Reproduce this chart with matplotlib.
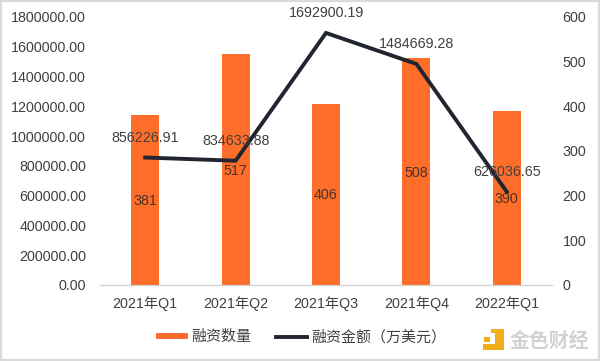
#Financing count and amount by quarter, bars + line with two y axes
import matplotlib
matplotlib.use("Agg")
import matplotlib.pyplot as plt
from matplotlib.patches import Rectangle

plt.rcParams['font.family'] = ['Liberation Sans', 'Noto Sans CJK SC', 'DejaVu Sans']

quarters = ['2021年Q1', '2021年Q2', '2021年Q3', '2021年Q4', '2022年Q1']
counts = [381, 517, 406, 508, 390]
amounts = [856226.91, 834633.88, 1692900.19, 1484669.28, 626036.65]
amount_labels = ['856226.91', '834633.88', '1692900.19', '1484669.28', '626036.65']
left_ticks = [0, 200000, 400000, 600000, 800000, 1000000, 1200000, 1400000, 1600000, 1800000]
right_ticks = [0, 100, 200, 300, 400, 500, 600]

W, H = 600, 361
orange = '#FF6D2A'
dark = '#20252F'
txt = '#404040'
logo = '#F0AE1C'
xs = list(range(len(quarters)))

fig = plt.figure(figsize=(W/100, H/100), dpi=100)
ax1 = fig.add_axes([100/W, 1-285/H, 452/W, 268/H])
ax2 = ax1.twinx()
ax1.set_zorder(2)
ax1.patch.set_visible(False)

bars = ax2.bar(xs, counts, width=0.31, color=orange, label='融资数量')
line, = ax1.plot(xs, amounts, color=dark, lw=2.8, label='融资金额（万美元）', solid_joinstyle='miter')

ax1.set_xlim(-0.5, 4.5)
ax1.set_ylim(0, 1800000)
ax2.set_ylim(0, 600)
ax1.set_xticks(xs, quarters, fontsize=10.3, color=txt)
ax1.set_yticks(left_ticks, ['%.2f' % t for t in left_ticks], fontsize=10.3, color=txt)
ax2.set_yticks(right_ticks, [str(t) for t in right_ticks], fontsize=10.3, color=txt)
ax1.tick_params(axis='y', length=0, pad=10)
ax1.tick_params(axis='x', length=0, pad=8)
ax2.tick_params(axis='y', length=0, pad=7.5)
for ax in (ax1, ax2):
    for s in ('top', 'left', 'right'):
        ax.spines[s].set_visible(False)
    ax.spines['bottom'].set_color('#D0D0D0')

# amount labels above the line, count labels in the middle of the bars
for x, a, s in zip(xs, amounts, amount_labels):
    ax1.annotate(s, (x, a), xytext=(0, 14.3), textcoords='offset points', ha='center',
                 va='center', fontsize=10.3, color=txt)
for x, c in zip(xs, counts):
    # bar axis is 0-600, this axis 0-1800000, so half a bar is c*1500 here
    ax1.annotate(str(c), (x, c*1500), xytext=(0, -0.7), textcoords='offset points', ha='center',
                 va='center', fontsize=10.3, color='#4A3328')

leg = fig.legend(handles=[bars, line], loc='center', bbox_to_anchor=(301/W, 1-337/H), ncol=2, frameon=False,
                 prop={'family': ['Noto Sans CJK SC'], 'size': 10.8}, labelcolor=txt, handlelength=2.1,
                 handleheight=0.35, handletextpad=0.25, columnspacing=1.6)
# thinner swatch than the legend would give
sw = leg.legend_handles[0]
sw.set_y(sw.get_y() + (sw.get_height() - 4.5)/2)
sw.set_height(4.5)

# outer frame of the picture
fig.add_artist(Rectangle((0, 0), 1, 1, transform=fig.transFigure, fill=False, ec='#DADADA', lw=3))

# watermark, pieces given as left, top, width, height in pixels
for x0, y0, w, h in [(483, 344, 21, 6), (495, 329, 9, 21), (491, 329, 4, 4), (484, 337, 6, 5)]:
    fig.add_artist(Rectangle((x0/W, 1-(y0+h)/H), w/W, h/H, transform=fig.transFigure, fc=logo, ec='none'))
fig.text(510/W, 1-340/H, '金色财经', fontsize=14.3, color='#D2D2D2', va='center', ha='left',
         family=['Noto Sans CJK SC'], fontweight='bold')

fig.savefig('out.png', dpi=100)
